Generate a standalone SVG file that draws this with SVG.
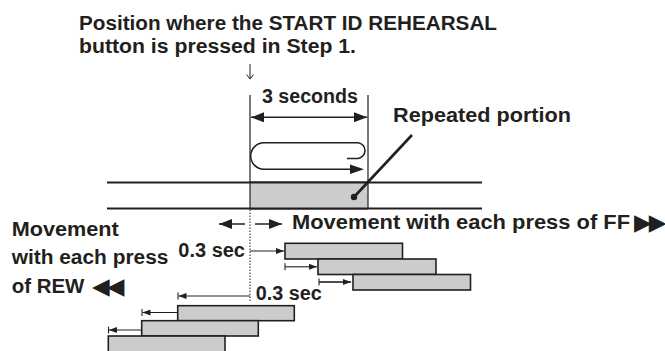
<svg xmlns="http://www.w3.org/2000/svg" width="665" height="351" viewBox="0 0 665 351">
<style>
.t{font-family:"Liberation Sans",Arial,sans-serif;font-weight:bold;font-size:20px;fill:#231f20}
.sym{font-family:"DejaVu Sans",sans-serif;font-size:23px;letter-spacing:-3px}
.ln{stroke:#231f20;fill:none}
.bar{fill:#cccccc;stroke:#231f20;stroke-width:1.6}
.ah{fill:#231f20;stroke:none}
</style>
<defs>
<marker id="sh" viewBox="0 0 8 6" refX="8" refY="3" markerWidth="8" markerHeight="6" markerUnits="userSpaceOnUse" orient="auto"><path d="M0,0 L8,3 L0,6 Z" fill="#231f20"/></marker>
<marker id="bh" viewBox="0 0 13 10" refX="13" refY="5" markerWidth="13" markerHeight="10" markerUnits="userSpaceOnUse" orient="auto-start-reverse"><path d="M0,0 L13,5 L0,10 Z" fill="#231f20"/></marker>
</defs>

<g id="title">
<text class="t" x="79" y="30" textLength="418" lengthAdjust="spacingAndGlyphs">Position where the START ID REHEARSAL</text>
<text class="t" x="79" y="53" textLength="277" lengthAdjust="spacingAndGlyphs">button is pressed in Step 1.</text>
<path class="ln" stroke-width="1" d="M250 64 V79 M246.5 74.5 L250 79 L253.5 74.5"/>
</g>

<g id="three-seconds">
<text class="t" x="262" y="102.7" textLength="96" lengthAdjust="spacingAndGlyphs">3 seconds</text>
</g>

<g id="repeated-label">
<text class="t" x="393" y="121.7" textLength="178" lengthAdjust="spacingAndGlyphs">Repeated portion</text>
</g>

<g id="track">
<line class="ln" stroke-width="1.8" x1="107" y1="182.5" x2="482" y2="182.5"/>
<line class="ln" stroke-width="1.8" x1="107" y1="208.5" x2="482" y2="208.5"/>
<rect x="250" y="182.5" width="118" height="26" fill="#cccccc"/>
<line class="ln" stroke-width="1.8" x1="250" y1="182.5" x2="368" y2="182.5"/>
<line class="ln" stroke-width="1.8" x1="250" y1="208.5" x2="368" y2="208.5"/>
</g>

<g id="connectors">
<line class="ln" stroke-width="1.2" x1="250" y1="95" x2="250" y2="208.5"/>
<line class="ln" stroke-width="1.2" x1="368" y1="95" x2="368" y2="208.5"/>
<line class="ln" stroke-width="1.5" x1="251" y1="117.3" x2="367" y2="117.3" marker-start="url(#bh)" marker-end="url(#bh)"/>
<path class="ln" stroke-width="1.5" d="M347 158.4 L358 158.4 A7.9 7.9 0 0 0 358 142.7 L264 142.7 A13.3 13.3 0 0 0 264 169.3 L355 169.3"/>
<path class="ah" d="M350 164.6 L364 169.3 L350 174 Z"/>
<line class="ln" stroke-width="2.6" x1="354" y1="197" x2="412" y2="135"/>
<circle cx="354" cy="197" r="3.2" fill="#231f20"/>
<line class="ln" stroke-width="1" stroke-dasharray="1.5 1.5" x1="250" y1="209.5" x2="250" y2="302"/>
<line class="ln" stroke-width="1.5" x1="245" y1="224" x2="219" y2="224" marker-end="url(#bh)"/>
<line class="ln" stroke-width="1.5" x1="255" y1="224" x2="282" y2="224" marker-end="url(#bh)"/>
<line class="ln" stroke-width="1.1" x1="250" y1="251" x2="284" y2="251" marker-end="url(#sh)"/>
<path class="ln" stroke-width="1.1" d="M285 263.3 V270.3"/>
<line class="ln" stroke-width="1.1" x1="285" y1="266.8" x2="317" y2="266.8" marker-end="url(#sh)"/>
<path class="ln" stroke-width="1.1" d="M319 278.5 V285.5"/>
<line class="ln" stroke-width="1.6" x1="319" y1="282" x2="351" y2="282" marker-end="url(#sh)"/>
<path class="ln" stroke-width="1.1" d="M178 292.5 V299.5"/>
<line class="ln" stroke-width="1.1" x1="250" y1="296" x2="178.5" y2="296" marker-end="url(#sh)"/>
<path class="ln" stroke-width="1.1" d="M142 309 V316"/>
<line class="ln" stroke-width="1.1" x1="177.7" y1="312.5" x2="142.5" y2="312.5" marker-end="url(#sh)"/>
<path class="ln" stroke-width="1.1" d="M108.5 326.5 V333.5"/>
<line class="ln" stroke-width="1.1" x1="141.7" y1="330" x2="109" y2="330" marker-end="url(#sh)"/>
</g>

<g id="ff-label">
<text class="t" x="292" y="228.5"><tspan textLength="338" lengthAdjust="spacingAndGlyphs">Movement with each press of FF</tspan><tspan class="sym" x="634" y="230">▶▶</tspan></text>
</g>

<g id="rew-label">
<text class="t" x="11.7" y="235.5" textLength="107" lengthAdjust="spacingAndGlyphs">Movement</text>
<text class="t" x="11.7" y="264" textLength="156.7" lengthAdjust="spacingAndGlyphs">with each press</text>
<text class="t" x="11.7" y="292.5"><tspan textLength="72.6" lengthAdjust="spacingAndGlyphs">of REW</tspan><tspan class="sym" x="92" y="294">◀◀</tspan></text>
</g>

<g id="sec-labels">
<text class="t" x="178.3" y="256.5" textLength="66.7" lengthAdjust="spacingAndGlyphs">0.3 sec</text>
<text class="t" x="255.7" y="300" textLength="66" lengthAdjust="spacingAndGlyphs">0.3 sec</text>
</g>

<g id="ff-bars">
<rect class="bar" x="285" y="243.3" width="117.5" height="15.7"/>
<rect class="bar" x="318" y="259" width="118" height="15.5"/>
<rect class="bar" x="353" y="274.5" width="117.5" height="15.5"/>
</g>

<g id="rew-bars">
<rect class="bar" x="177.7" y="305.7" width="116.6" height="15"/>
<rect class="bar" x="141.7" y="320.7" width="116.6" height="15.3"/>
<rect class="bar" x="108.3" y="336" width="116.7" height="20"/>
</g>
</svg>
